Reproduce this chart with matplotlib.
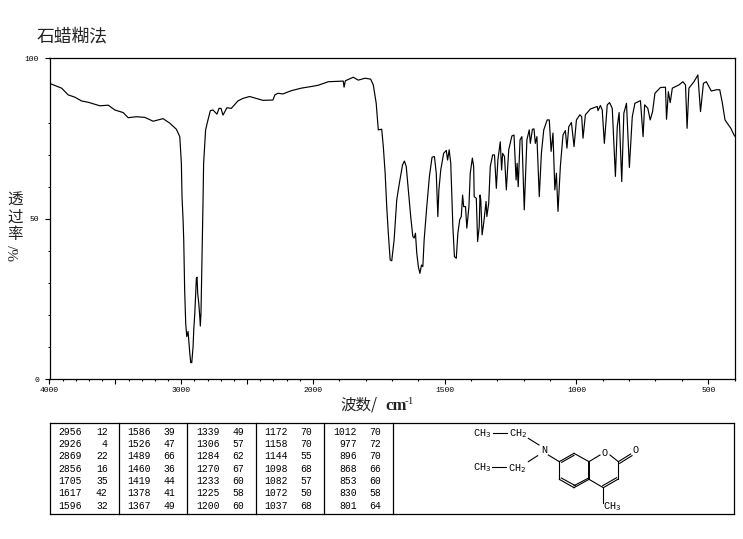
import numpy as np
import matplotlib
matplotlib.use('Agg')
import matplotlib.pyplot as plt

# IR trace: wavenumber (cm-1), transmittance (%)
wavenumber = [4000,3958,3908,3858,3808,3756,3706,3617,3554,3504,3441,3403,3340,3277,3213,3138,3087,3037,3011,2999,
              2994,2986,2981,2974,2966,2958,2948,2936,2928,2920,2910,2905,2897,2890,2885,2880,2875,2867,2860,2855,
              2850,2845,2835,2830,2815,2797,2779,2759,2729,2713,2698,2683,2653,2620,2570,2532,2481,2431,2380,2304,
              2289,2266,2229,2165,2089,2014,1980,1942,1885,1882,1877,1847,1828,1802,1781,1771,1760,1752,1739,1733,
              1726,1720,1714,1707,1701,1692,1682,1672,1660,1653,1646,1637,1629,1621,1616,1611,1606,1600,1594,1588,
              1583,1578,1568,1558,1548,1539,1532,1526,1522,1515,1504,1494,1489,1483,1477,1469,1463,1456,1450,1443,
              1437,1432,1428,1421,1416,1408,1403,1395,1390,1388,1380,1375,1369,1366,1363,1358,1352,1343,1340,1333,
              1327,1318,1311,1304,1298,1289,1284,1280,1273,1266,1257,1245,1237,1229,1225,1221,1214,1207,1198,1188,
              1179,1175,1167,1161,1156,1150,1141,1133,1124,1111,1103,1096,1089,1082,1076,1070,1061,1051,1042,1036,
              1029,1019,1009,1000,987,980,975,966,947,921,918,909,902,894,883,874,864,852,845,838,
              828,820,810,799,788,778,757,747,741,729,720,711,702,681,662,658,651,644,636,611,
              596,586,580,573,554,539,529,518,507,488,469,456,446,436,414,400]
transmittance = [92.2,91.5,90.7,88.6,87.9,86.7,86.3,85.2,85.4,83.9,83.1,81.5,81.8,81.6,80.4,81.2,79.8,77.9,75.6,67.3,
                 56.9,49.6,43.4,27.8,17.4,13.3,14.9,8.6,5.2,5.2,10.2,15.4,20.6,26.8,31.5,31.8,26.8,23.7,20.0,16.6,
                 20.6,31.5,54.3,67.3,77.7,80.8,83.7,83.9,82.6,84.4,84.4,82.3,84.6,84.4,86.7,87.5,88.1,87.5,86.9,87.0,
                 88.6,89.1,88.9,89.9,90.7,91.2,91.6,92.7,92.9,91.0,93.0,94.1,93.2,93.8,93.5,91.7,86.0,77.7,77.9,72.5,
                 64.2,53.8,45.5,37.2,36.9,43.4,55.9,61.1,66.8,68.0,66.3,58.0,50.7,44.5,44.0,45.5,39.3,35.1,33.0,35.6,
                 35.1,43.4,53.8,63.2,69.2,69.4,64.2,50.7,59.0,65.2,70.4,71.3,68.3,71.5,67.3,47.6,38.2,37.7,45.5,49.7,
                 50.7,57.4,53.8,53.8,47.1,53.8,64.2,68.9,66.3,56.9,56.4,42.9,47.6,57.4,55.9,45.0,48.6,55.4,50.7,54.8,
                 66.3,69.9,69.9,59.5,68.4,74.0,65.2,70.4,69.4,59.0,71.5,75.8,76.1,62.1,67.3,60.0,74.6,75.6,52.8,74.6,
                 77.7,73.5,77.9,78.0,73.5,75.6,56.9,70.4,77.7,80.8,80.8,71.0,76.7,59.0,64.2,52.3,66.3,76.1,77.5,72.0,
                 78.7,80.0,72.5,80.8,82.4,81.8,75.1,82.4,84.2,85.0,83.7,85.3,83.9,73.5,85.5,86.2,84.4,63.2,78.7,83.1,
                 61.6,82.9,86.0,66.0,81.8,86.0,86.8,75.6,85.5,84.4,80.8,83.4,89.1,90.9,91.0,81.0,89.6,86.2,90.7,91.7,
                 92.7,91.7,78.2,90.7,92.7,94.8,83.4,92.2,92.7,89.8,90.2,90.2,86.0,80.8,78.2,75.8]

# peak table, one pair of lists per column
peak_wn = [[2956,2926,2869,2856,1705,1617,1596],
           [1586,1526,1489,1460,1419,1378,1367],
           [1339,1306,1284,1270,1233,1225,1200],
           [1172,1158,1144,1098,1082,1072,1037],
           [1012,977,896,868,853,830,801]]
peak_t = [[12,4,22,16,35,42,32],
          [39,47,66,36,44,41,49],
          [49,57,62,67,60,58,60],
          [70,70,55,68,57,50,68],
          [70,72,70,66,60,58,64]]

x_labeled = [4000,3000,2000,1500,1000,500]
x_major = [4000,3500,3000,2500,2000,1500,1000,500]
y_labeled = [0,50,100]
y_minor = [10,20,30,40,60,70,80]

W, H = 743, 539
mono = 'Liberation Mono'
cjk = ['Noto Sans CJK SC', 'DejaVu Sans']
serif = 'Liberation Serif'

# axis is twice as compressed above 2000
def fwd(v):
    v = np.asarray(v, dtype=float)
    return np.where(v <= 2000, v, 2000 + (v - 2000) / 2)

def inv(p):
    p = np.asarray(p, dtype=float)
    return np.where(p <= 2000, p, 2000 + (p - 2000) * 2)

fig = plt.figure(figsize=(W / 100, H / 100), dpi=100)
ax = fig.add_axes([49.5 / W, 1 - 379.3 / H, 685 / W, 321 / H])
ax.set_xscale('function', functions=(fwd, inv))
ax.set_xlim(4000, 400)
ax.set_ylim(0, 100)
ax.plot(wavenumber, transmittance, color='black', lw=0.85)

ax.set_xticks(x_major)
ax.set_xticklabels([str(v) if v in x_labeled else '' for v in x_major], family=mono, fontsize=5.8)
ax.set_xticks([v for v in range(400, 4000, 100) if v not in x_major], minor=True)
ax.set_yticks(y_labeled)
ax.set_yticklabels([str(v) for v in y_labeled], family=mono, fontsize=5.8)
ax.set_yticks(y_minor, minor=True)
ax.tick_params(which='major', length=3.5, width=0.8)
ax.tick_params(which='minor', length=1.6, width=0.8)
ax.tick_params(axis='x', which='major', pad=2)
ax.tick_params(axis='y', which='major', pad=4)
for s in ax.spines.values():
    s.set_linewidth(0.9)

# overlay in pixel coordinates for the labels and the table
ov = fig.add_axes([0, 0, 1, 1])
ov.set_xlim(0, W)
ov.set_ylim(H, 0)
ov.axis('off')
ov.patch.set_alpha(0)

ov.text(37, 36, '石蜡糊法', family=cjk, fontsize=12.8, va='center', ha='left', color='#222222')
for lab, yy in zip(['透', '过', '率'], [200, 217, 235]):
    ov.text(15, yy, lab, family=cjk, fontsize=11.2, va='center', ha='center', color='#222222')
ov.text(15, 253, '%/', family=serif, fontsize=11, rotation=90, va='center', ha='center', color='#222222')
ov.text(340, 405.5, '波数/', family=cjk, fontsize=11.2, va='center', ha='left', color='#222222')
ov.text(385, 406, 'cm', family=serif, fontsize=12, va='center', ha='left', color='#222222', weight='bold')
ov.text(405, 402, '-1', family=serif, fontsize=8, va='center', ha='left', color='#222222')

# table frame
top, bottom = 422.7, 514.3
dividers = [49.5, 118.5, 186.5, 255.5, 323.5, 392.5, 734.3]
ov.plot([dividers[0], dividers[-1]], [top, top], color='black', lw=0.9)
ov.plot([dividers[0], dividers[-1]], [bottom, bottom], color='black', lw=0.9)
for d in dividers:
    ov.plot([d, d], [top, bottom], color='black', lw=0.9)

wn_right = [81.7, 151, 219.3, 287.3, 356.7]
t_right = [107.7, 175, 244.3, 312.3, 381]
for c in range(5):
    for r in range(7):
        yy = 431.7 + r * 12.33
        ov.text(wn_right[c], yy, str(peak_wn[c][r]), family=mono, fontsize=7, ha='right', va='center')
        ov.text(t_right[c], yy, str(peak_t[c][r]), family=mono, fontsize=7, ha='right', va='center')

# structure, drawn on the zoomed grid
def sx(z):
    return 390 + z / 3

def sy(z):
    return 410 + z / 3

def bond(x0, y0, x1, y1, lw=0.8):
    ov.plot([sx(x0), sx(x1)], [sy(y0), sy(y1)], color='black', lw=lw)

def label(z_x, z_y, s):
    ov.text(sx(z_x), sy(z_y), s, family=mono, fontsize=7.4, ha='center', va='center')

bonds = [(308,70,350,70),(415,85,447,105),(443,137,415,155),(305,172,347,172),(475,135,508,155),
         (508,155,552,130),(515,157,552,136),(552,130,597,155),(597,208,552,233),(594,205,552,227),
         (552,233,508,208),(556,227,514,204),(508,208,508,155),(597,155,630,135),(660,135,685,155),
         (685,155,722,132),(689,160,726,137),(685,155,685,207),(685,207,640,233),(680,203,638,227),
         (640,233,597,208),(640,233,640,280)]
for b in bonds:
    bond(*b)
bond(597, 155, 597, 208, lw=1.4)

label(277, 72, 'CH$_3$')
label(384, 72, 'CH$_2$')
label(463, 120, 'N')
label(276, 173, 'CH$_3$')
label(382, 175, 'CH$_2$')
label(645, 128, 'O')
label(737, 120, 'O')
label(665, 290, 'CH$_3$')

fig.savefig('out.png', dpi=100)
